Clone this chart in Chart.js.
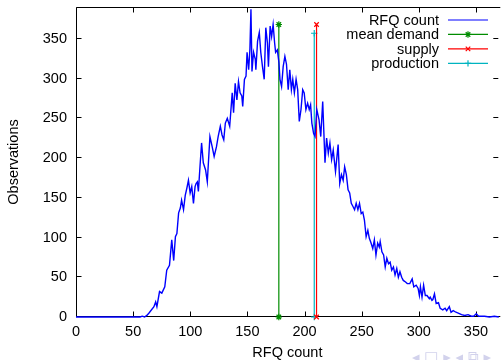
<!DOCTYPE html>
<html>
<head>
<meta charset="utf-8">
<script src="https://cdn.jsdelivr.net/npm/chart.js@4/dist/chart.umd.min.js"></script>
<style>
  html, body { margin: 0; padding: 0; background: #fff; }
</style>
</head>
<body>
<canvas id="grafico" width="504" height="360"></canvas>
<script>
// RFQ count histogram
const rfqX = [
  0, 20, 40, 56, 58, 60, 62, 63.9, 68.2, 69.7,
  70.8, 73.1, 75.1, 77.7, 79.4, 81.8, 83.8, 85.5, 87, 88.3,
  89.8, 91.3, 92.4, 94.1, 95.6, 97, 98.4, 99.9, 101.3, 102.8,
  104.2, 105.1, 106.2, 107.1, 108.5, 109.9, 111.4, 113.4, 114.9, 117.2,
  119.2, 120.9, 122.9, 124.4, 126.3, 127.8, 129.3, 130.7, 132.4, 134.5,
  136.7, 137.9, 139.3, 140.8, 142.2, 143.6, 145.1, 145.9, 147.4, 148.8,
  149.7, 151.1, 152.2, 153.1, 154, 154.6, 155.4, 156.9, 157.4, 158.9,
  160.4, 161.7, 163.2, 164.7, 166.1, 167.5, 168.4, 169.9, 171.2, 172.5,
  173.8, 174.7, 176.2, 177.6, 178.5, 179.9, 181.3, 182.8, 184.2, 185.7,
  187.1, 188.5, 189.7, 191.1, 192.6, 194, 195.4, 196.9, 198.4, 199.7,
  201.2, 202.7, 204.1, 205.3, 206.4, 207.9, 209.2, 210.7, 212.7, 214.2,
  215.9, 217.9, 219.3, 220.8, 222.2, 223.7, 225.1, 227.1, 229.4, 230.8,
  232.3, 233.8, 235.1, 236.6, 238.1, 239.5, 240.9, 242.4, 243.8, 245.2,
  246.7, 248.1, 249.6, 251, 252.4, 253.9, 255.4, 256.7, 258.2, 259.7,
  261.1, 262.5, 264, 265.4, 266.2, 267.7, 269.2, 270.6, 272, 273.5,
  274.9, 276.3, 277.8, 279.2, 280.7, 282.1, 283.5, 285, 286.4, 288.4,
  289.9, 292.1, 294.2, 295.6, 297.7, 299.4, 300.5, 301.4, 302.8, 304.2,
  305.7, 307.2, 309.2, 310, 311.5, 312.3, 313.7, 315.2, 317.2, 318.7,
  321, 323, 324.4, 326.7, 328.2, 330.1, 332.5, 334.5, 337.4, 340.2,
  343.1, 346, 348, 350.3, 352.3, 357.5, 361.8, 366.1, 370
];
const rfqCount = [
  0, 0, 0, 0, 1, 0, 2, 5, 13, 19,
  13, 32, 30, 38, 59, 65, 97, 71, 101, 105,
  131, 137, 147, 135, 153, 162, 172, 156, 164, 143,
  164, 168, 170, 158, 189, 219, 194, 185, 170, 227,
  214, 202, 214, 227, 240, 229, 223, 244, 250, 240,
  282, 257, 294, 273, 296, 282, 278, 265, 299, 303,
  333, 311, 337, 387, 309, 320, 333, 324, 311, 347,
  358, 333, 315, 299, 364, 345, 315, 366, 353, 368,
  345, 333, 336, 320, 299, 290, 315, 328, 318, 286,
  311, 286, 299, 282, 299, 286, 246, 261, 286, 282,
  261, 269, 261, 267, 244, 231, 227, 261, 248, 227,
  271, 194, 225, 206, 219, 198, 210, 183, 217, 168,
  179, 172, 189, 179, 160, 156, 143, 139, 135, 143,
  135, 143, 130, 132, 122, 101, 109, 99, 93, 86,
  97, 78, 93, 88, 95, 82, 78, 63, 74, 67,
  69, 59, 63, 53, 61, 50, 57, 50, 46, 44,
  42, 42, 48, 38, 40, 36, 27, 38, 25, 40,
  27, 27, 23, 25, 21, 22, 29, 17, 18, 11,
  9, 11, 8, 13, 6, 8, 6, 5, 3, 2,
  3, 1, 1, 4, 1, 1, 0, 1, 0
];

// vertical markers
const meanDemandX = [177.5, 177.5];
const meanDemandY = [0, 368];
const supplyX = [210.5, 210.5];
const supplyY = [0, 368];
const productionX = [208.5, 208.5];
const productionY = [0, 357];

const seriesNames = ["RFQ count", "mean demand", "supply", "production"];
const xTicks = [0, 50, 100, 150, 200, 250, 300, 350];
const yTicks = [0, 50, 100, 150, 200, 250, 300, 350];

const FONTE = "'Liberation Sans', Arial, sans-serif";
const pares = (xs, ys) => xs.map((x, i) => ({ x, y: ys[i] }));

// gnuplot-style border, inward ticks and key inside the plot
const molduraPlugin = {
  id: "moldura",
  beforeDatasetsDraw(chart) {
    const { ctx, chartArea: a, scales: { x, y } } = chart;
    const L = Math.round(a.left) + .5, B = Math.round(a.bottom) - .5, T = Math.round(a.top) + .5, R = a.right - .5;
    ctx.save();
    ctx.strokeStyle = "#000";
    ctx.lineWidth = 1;
    ctx.beginPath();
    ctx.moveTo(L, T); ctx.lineTo(R + 2, T);
    ctx.moveTo(L, T); ctx.lineTo(L, B);
    ctx.moveTo(L, B); ctx.lineTo(R + 2, B);
    xTicks.forEach((v) => {
      const px = Math.round(x.getPixelForValue(v)) + .5;
      ctx.moveTo(px, B); ctx.lineTo(px, B - 5);
      ctx.moveTo(px, T); ctx.lineTo(px, T + 5);
    });
    yTicks.forEach((v) => {
      const py = Math.round(y.getPixelForValue(v)) - .5;
      ctx.moveTo(L, py); ctx.lineTo(L + 5, py);
      ctx.moveTo(R, py); ctx.lineTo(R - 5, py);
    });
    ctx.stroke();
    ctx.restore();
  },
  afterDraw(chart) {
    const { ctx } = chart;
    ctx.save();
    ctx.font = `14.5px ${FONTE}`;
    ctx.textBaseline = "middle";
    ctx.textAlign = "right";
    chart.data.datasets.forEach((ds, i) => {
      const yy = 20 + i * 14.45;
      ctx.fillStyle = "#000";
      ctx.fillText(seriesNames[i], 439, yy + 1);
      ctx.strokeStyle = ds.borderColor;
      ctx.lineWidth = 1.2;
      ctx.beginPath();
      ctx.moveTo(448, yy); ctx.lineTo(488, yy);
      ctx.stroke();
      if (ds.pointStyle) {
        Chart.helpers.drawPoint(ctx, { pointStyle: ds.pointStyle, radius: 3.2, borderWidth: 1.2 }, 468, yy);
      }
    });
    // beamer navigation symbols
    ctx.fillStyle = "#d2d2ec";
    ctx.textAlign = "left";
    ctx.font = `15px 'DejaVu Sans', sans-serif`;
    ctx.fillText("◂ □ ▸ ◂ ⧉ ▸", 412, 358);
    ctx.restore();
  }
};

const linha = (label, xs, ys, cor, estilo) => ({
  label,
  data: pares(xs, ys),
  showLine: true,
  borderColor: cor,
  backgroundColor: cor,
  borderWidth: 1.2,
  pointStyle: estilo,
  pointRadius: 3.2,
  pointBorderWidth: 1.2,
  clip: 4
});

// sem o padding automático dos rótulos, para a área do gráfico ficar onde queremos
const semPadding = (s) => { s.paddingTop = 0; s.paddingBottom = 0; s.paddingLeft = 0; s.paddingRight = 0; };

new Chart(document.getElementById("grafico"), {
  type: "scatter",
  data: {
    datasets: [
      { label: seriesNames[0], data: pares(rfqX, rfqCount), showLine: true, borderColor: "#0000ff",
        borderWidth: 1.4, pointRadius: 0, pointStyle: false, clip: 4 },
      linha(seriesNames[1], meanDemandX, meanDemandY, "#008c00", "star"),
      linha(seriesNames[2], supplyX, supplyY, "#ff0000", "crossRot"),
      linha(seriesNames[3], productionX, productionY, "#00b4c0", "cross")
    ]
  },
  options: {
    responsive: false,
    animation: false,
    devicePixelRatio: 1,
    layout: { padding: { top: 7, right: 0, left: 0, bottom: 0 } },
    plugins: { legend: { display: false }, tooltip: { enabled: false } },
    scales: {
      x: {
        type: "linear", min: 0, max: 370,
        afterBuildTicks: (s) => { s.ticks = xTicks.map((v) => ({ value: v })); },
        afterFit: (s) => { s.height = 43; semPadding(s); },
        grid: { display: false, drawTicks: false },
        border: { display: false },
        ticks: { color: "#000", padding: 6, maxRotation: 0, font: { family: FONTE, size: 14.5 } },
        title: { display: true, text: "RFQ count", color: "#000", padding: { top: 0, bottom: 0 },
          font: { family: FONTE, size: 14.5, lineHeight: 1 } }
      },
      y: {
        type: "linear", min: 0, max: 390,
        afterBuildTicks: (s) => { s.ticks = yTicks.map((v) => ({ value: v })); },
        afterFit: (s) => { s.width = 76; semPadding(s); },
        grid: { display: false, drawTicks: false },
        border: { display: false },
        ticks: { color: "#000", padding: 9, font: { family: FONTE, size: 14.5 } },
        title: { display: true, text: "Observations", color: "#000", padding: { top: 7, bottom: 0 },
          font: { family: FONTE, size: 14.5, lineHeight: 1 } }
      }
    }
  },
  plugins: [molduraPlugin]
});
</script>
</body>
</html>
